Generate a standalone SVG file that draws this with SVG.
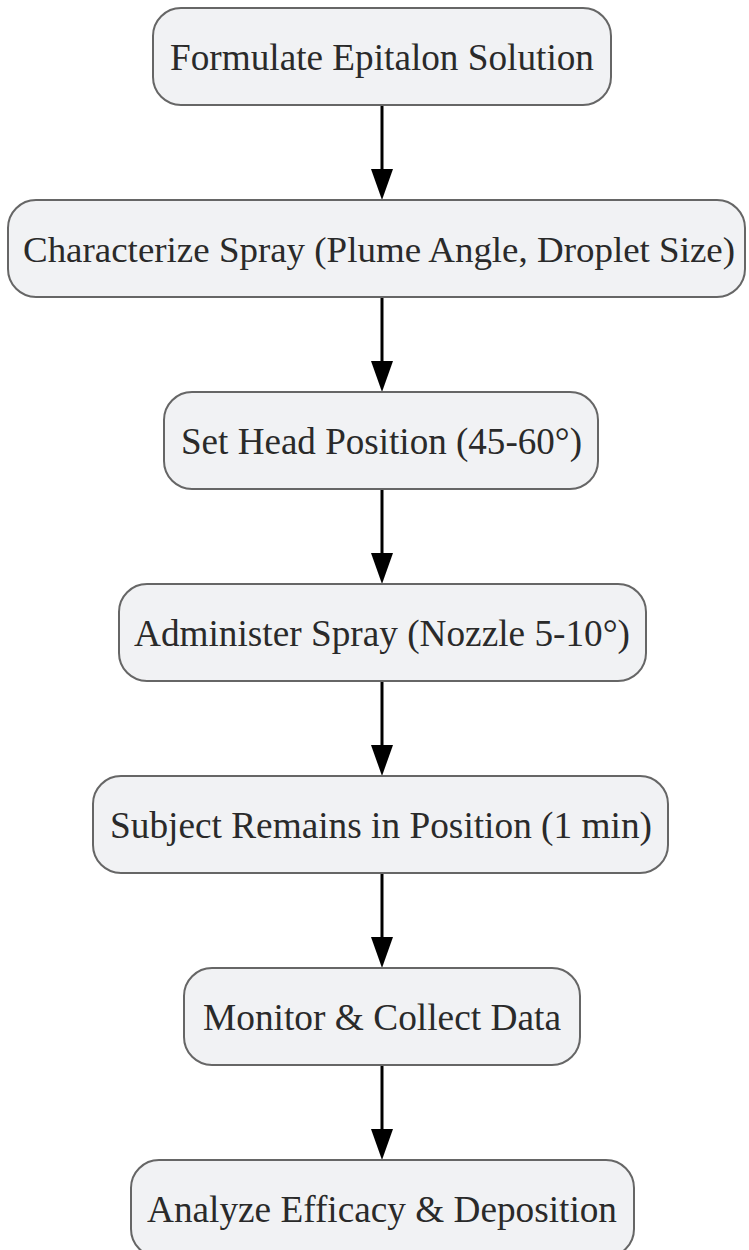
<svg xmlns="http://www.w3.org/2000/svg" width="749" height="1250" viewBox="0 0 749 1250">
<style>
.n rect{fill:#f1f2f4;stroke:#666;stroke-width:2}
.n text{font-family:"Liberation Serif","Times New Roman",serif;font-size:38px;fill:#2a2a2a;text-anchor:middle}
.e line{stroke:#000;stroke-width:3}
</style>
<rect width="749" height="1250" fill="#fff"/>
<g id="connectors" class="e">
<line x1="382" y1="105" x2="382" y2="175"/>
<line x1="382" y1="297" x2="382" y2="367"/>
<line x1="382" y1="489" x2="382" y2="559"/>
<line x1="382" y1="681" x2="382" y2="751"/>
<line x1="382" y1="873" x2="382" y2="943"/>
<line x1="382" y1="1065" x2="382" y2="1135"/>
</g>
<g id="arrowheads" fill="#000">
<path d="M371,169 L393,169 L382,200 Z"/>
<path d="M371,361 L393,361 L382,392 Z"/>
<path d="M371,553 L393,553 L382,584 Z"/>
<path d="M371,745 L393,745 L382,776 Z"/>
<path d="M371,937 L393,937 L382,968 Z"/>
<path d="M371,1129 L393,1129 L382,1160 Z"/>
</g>
<g id="n1" class="n"><rect x="153" y="8" width="458" height="97" rx="28"/><text x="382" y="70" textLength="424" lengthAdjust="spacingAndGlyphs">Formulate Epitalon Solution</text></g>
<g id="n2" class="n"><rect x="8" y="200" width="737" height="97" rx="28"/><text x="379" y="262" style="font-size:36px" textLength="712" lengthAdjust="spacingAndGlyphs">Characterize Spray (Plume Angle, Droplet Size)</text></g>
<g id="n3" class="n"><rect x="164" y="392" width="434" height="97" rx="28"/><text x="381.5" y="454" textLength="401" lengthAdjust="spacingAndGlyphs">Set Head Position (45-60°)</text></g>
<g id="n4" class="n"><rect x="119" y="584" width="527" height="97" rx="28"/><text x="382" y="646" textLength="496" lengthAdjust="spacingAndGlyphs">Administer Spray (Nozzle 5-10°)</text></g>
<g id="n5" class="n"><rect x="93" y="776" width="575" height="97" rx="28"/><text x="381" y="838" textLength="542" lengthAdjust="spacingAndGlyphs">Subject Remains in Position (1 min)</text></g>
<g id="n6" class="n"><rect x="184" y="968" width="396" height="97" rx="28"/><text x="382" y="1030" textLength="358" lengthAdjust="spacingAndGlyphs">Monitor &amp; Collect Data</text></g>
<g id="n7" class="n"><rect x="131" y="1160" width="503" height="97" rx="28"/><text x="382" y="1222" textLength="470" lengthAdjust="spacingAndGlyphs">Analyze Efficacy &amp; Deposition</text></g>
</svg>
